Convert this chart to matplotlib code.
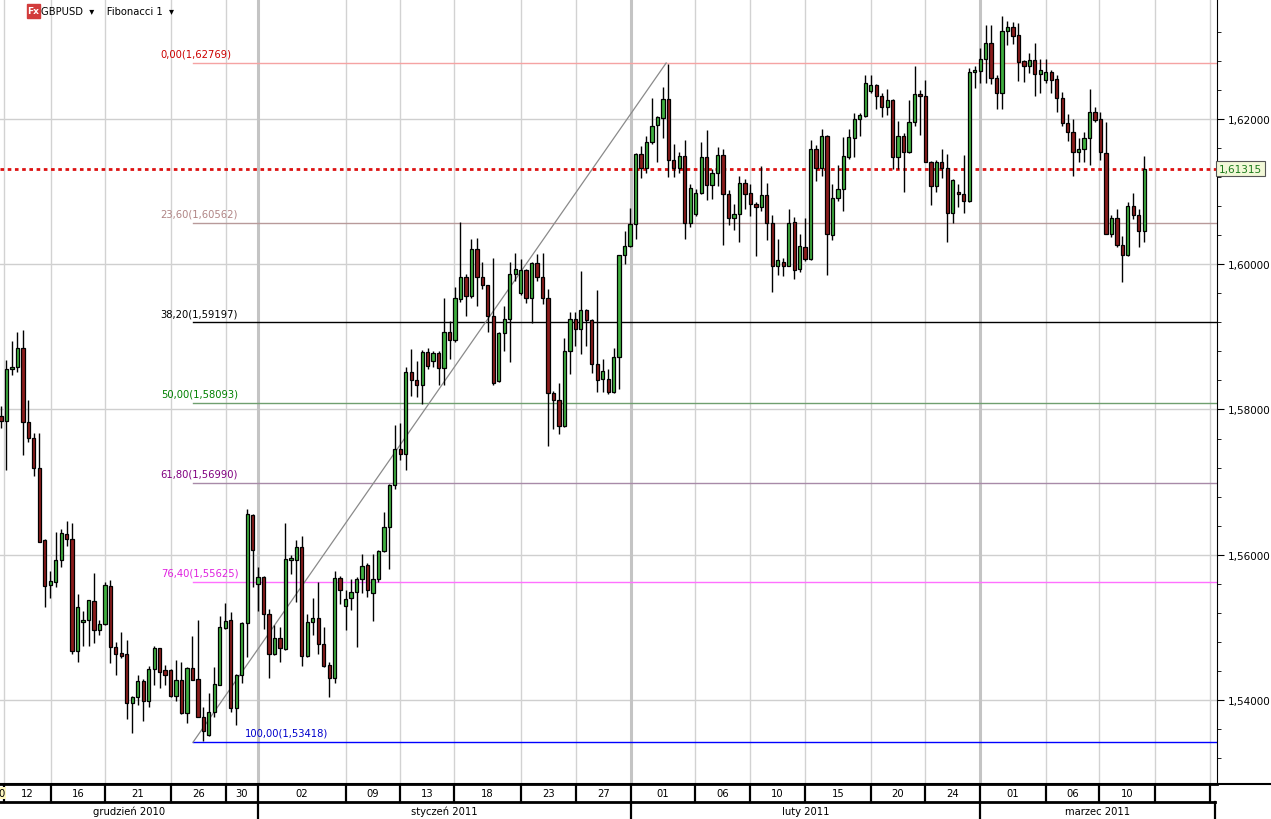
import matplotlib
matplotlib.use("Agg")
import matplotlib.pyplot as plt
import numpy as np

opens = [1.5791,1.5784,1.5856,1.5858,1.5884,1.5783,1.5761,1.5719,1.5620,1.5558,
1.5563,1.5593,1.5629,1.5622,1.5467,1.5507,1.5510,1.5536,1.5496,1.5504,
1.5557,1.5473,1.5465,1.5464,1.5396,1.5404,1.5426,1.5399,1.5443,1.5471,
1.5441,1.5441,1.5405,1.5427,1.5382,1.5444,1.5429,1.5377,1.5352,1.5384,
1.5421,1.5499,1.5510,1.5389,1.5434,1.5506,1.5655,1.5560,1.5569,1.5519,
1.5463,1.5485,1.5470,1.5593,1.5593,1.5610,1.5460,1.5508,1.5513,1.5477,
1.5448,1.5430,1.5568,1.5529,1.5540,1.5549,1.5566,1.5586,1.5548,1.5566,
1.5605,1.5638,1.5696,1.5745,1.5738,1.5851,1.5841,1.5833,1.5879,1.5867,
1.5878,1.5857,1.5906,1.5895,1.5952,1.5982,1.5956,1.6021,1.5983,1.5971,
1.5928,1.5839,1.5905,1.5925,1.5986,1.5960,1.5992,1.5954,1.6002,1.5982,
1.5953,1.5823,1.5813,1.5777,1.5881,1.5925,1.5911,1.5937,1.5923,1.5863,
1.5842,1.5842,1.5824,1.5872,1.6012,1.6025,1.6055,1.6152,1.6132,1.6168,
1.6191,1.6201,1.6227,1.6144,1.6132,1.6149,1.6057,1.6069,1.6098,1.6148,
1.6109,1.6126,1.6150,1.6096,1.6063,1.6069,1.6112,1.6098,1.6083,1.6078,
1.6095,1.6057,1.5998,1.6003,1.5998,1.6058,1.5993,1.6024,1.6007,1.6159,
1.6132,1.6177,1.6040,1.6091,1.6104,1.6148,1.6174,1.6200,1.6204,1.6238,
1.6246,1.6231,1.6217,1.6226,1.6148,1.6176,1.6155,1.6195,1.6234,1.6231,
1.6141,1.6108,1.6140,1.6133,1.6070,1.6099,1.6096,1.6087,1.6264,1.6266,
1.6283,1.6305,1.6256,1.6236,1.6321,1.6327,1.6315,1.6279,1.6273,1.6281,
1.6262,1.6253,1.6265,1.6255,1.6229,1.6194,1.6182,1.6155,1.6158,1.6173,
1.6210,1.6200,1.6153,1.6042,1.6063,1.6026,1.6012,1.6080,1.6068,1.6046]

highs = [1.5805,1.5868,1.5894,1.5906,1.5909,1.5813,1.5768,1.5767,1.5621,1.5578,
1.5631,1.5635,1.5647,1.5644,1.5546,1.5523,1.5537,1.5575,1.5510,1.5562,
1.5565,1.5480,1.5493,1.5482,1.5406,1.5435,1.5429,1.5447,1.5475,1.5472,
1.5448,1.5443,1.5455,1.5452,1.5445,1.5488,1.5510,1.5390,1.5410,1.5445,
1.5515,1.5534,1.5521,1.5436,1.5507,1.5663,1.5656,1.5583,1.5571,1.5525,
1.5503,1.5500,1.5644,1.5599,1.5620,1.5626,1.5519,1.5540,1.5562,1.5501,
1.5452,1.5577,1.5571,1.5551,1.5566,1.5569,1.5601,1.5589,1.5601,1.5606,
1.5659,1.5698,1.5778,1.5782,1.5858,1.5883,1.5866,1.5882,1.5884,1.5881,
1.5880,1.5953,1.5922,1.5968,1.6058,1.5986,1.6035,1.6036,1.6003,1.5971,
1.6008,1.5906,1.5942,1.6003,1.6015,1.6007,1.5994,1.6003,1.6014,1.6015,
1.5966,1.5826,1.5837,1.5899,1.5934,1.5934,1.5990,1.5938,1.5925,1.5965,
1.5870,1.5856,1.5884,1.6013,1.6046,1.6077,1.6153,1.6163,1.6177,1.6229,
1.6204,1.6244,1.6276,1.6166,1.6154,1.6171,1.6111,1.6103,1.6168,1.6184,
1.6131,1.6161,1.6159,1.6102,1.6083,1.6122,1.6117,1.6111,1.6085,1.6135,
1.6112,1.6068,1.6035,1.6008,1.6076,1.6065,1.6041,1.6064,1.6171,1.6164,
1.6186,1.6178,1.6111,1.6137,1.6175,1.6186,1.6208,1.6208,1.6261,1.6260,
1.6248,1.6236,1.6241,1.6228,1.6197,1.6180,1.6226,1.6273,1.6240,1.6254,
1.6142,1.6143,1.6159,1.6151,1.6117,1.6111,1.6150,1.6270,1.6273,1.6297,
1.6329,1.6329,1.6261,1.6342,1.6335,1.6333,1.6332,1.6281,1.6291,1.6305,
1.6282,1.6282,1.6267,1.6260,1.6237,1.6207,1.6200,1.6173,1.6182,1.6241,
1.6216,1.6210,1.6195,1.6068,1.6076,1.6039,1.6085,1.6098,1.6076,1.6149]

lows = [1.5774,1.5716,1.5848,1.5852,1.5737,1.5755,1.5709,1.5617,1.5528,1.5540,
1.5556,1.5583,1.5612,1.5464,1.5452,1.5475,1.5474,1.5478,1.5490,1.5503,
1.5451,1.5434,1.5458,1.5374,1.5354,1.5393,1.5371,1.5390,1.5421,1.5416,
1.5421,1.5404,1.5398,1.5381,1.5368,1.5428,1.5376,1.5343,1.5351,1.5376,
1.5420,1.5498,1.5384,1.5365,1.5424,1.5459,1.5555,1.5523,1.5498,1.5431,
1.5462,1.5452,1.5469,1.5573,1.5535,1.5447,1.5459,1.5489,1.5464,1.5445,
1.5404,1.5424,1.5532,1.5496,1.5524,1.5473,1.5548,1.5542,1.5509,1.5562,
1.5604,1.5581,1.5690,1.5731,1.5716,1.5818,1.5817,1.5807,1.5855,1.5858,
1.5833,1.5833,1.5869,1.5893,1.5948,1.5929,1.5954,1.5942,1.5966,1.5907,
1.5834,1.5838,1.5881,1.5865,1.5977,1.5958,1.5947,1.5919,1.5977,1.5945,
1.5749,1.5773,1.5766,1.5776,1.5849,1.5888,1.5876,1.5888,1.5850,1.5824,
1.5824,1.5821,1.5823,1.5828,1.6000,1.6024,1.6035,1.6119,1.6125,1.6165,
1.6140,1.6174,1.6120,1.6120,1.6125,1.6035,1.6051,1.6066,1.6097,1.6088,
1.6090,1.6107,1.6027,1.6054,1.6047,1.6031,1.6076,1.6066,1.6011,1.6073,
1.6033,1.5962,1.5985,1.5984,1.5997,1.5979,1.5989,1.6005,1.6006,1.6115,
1.6122,1.5985,1.6033,1.6087,1.6073,1.6145,1.6147,1.6176,1.6202,1.6236,
1.6214,1.6202,1.6206,1.6131,1.6131,1.6099,1.6153,1.6190,1.6178,1.6140,
1.6081,1.6099,1.6119,1.6030,1.6056,1.6079,1.6070,1.6086,1.6242,1.6250,
1.6250,1.6248,1.6213,1.6214,1.6301,1.6303,1.6252,1.6251,1.6263,1.6232,
1.6236,1.6250,1.6236,1.6210,1.6190,1.6169,1.6122,1.6140,1.6140,1.6136,
1.6195,1.6143,1.6042,1.6037,1.6024,1.5975,1.6011,1.6062,1.6024,1.6030]

closes = [1.5784,1.5855,1.5858,1.5885,1.5783,1.5761,1.5719,1.5618,1.5557,1.5564,
1.5593,1.5630,1.5621,1.5467,1.5528,1.5510,1.5537,1.5496,1.5504,1.5559,
1.5473,1.5464,1.5461,1.5396,1.5404,1.5426,1.5399,1.5443,1.5471,1.5439,
1.5435,1.5405,1.5428,1.5382,1.5444,1.5428,1.5377,1.5357,1.5384,1.5422,
1.5500,1.5509,1.5389,1.5434,1.5506,1.5656,1.5607,1.5569,1.5519,1.5463,
1.5485,1.5471,1.5594,1.5596,1.5610,1.5460,1.5508,1.5513,1.5477,1.5447,
1.5430,1.5568,1.5551,1.5539,1.5549,1.5567,1.5585,1.5551,1.5567,1.5605,
1.5638,1.5696,1.5745,1.5738,1.5851,1.5840,1.5833,1.5879,1.5860,1.5878,
1.5857,1.5906,1.5895,1.5953,1.5982,1.5956,1.6021,1.5983,1.5971,1.5928,
1.5837,1.5905,1.5925,1.5986,1.5993,1.5992,1.5953,1.6002,1.5982,1.5953,
1.5823,1.5813,1.5777,1.5881,1.5925,1.5911,1.5937,1.5923,1.5863,1.5841,
1.5853,1.5824,1.5872,1.6012,1.6025,1.6055,1.6152,1.6132,1.6168,1.6190,
1.6202,1.6227,1.6143,1.6132,1.6149,1.6057,1.6105,1.6098,1.6148,1.6109,
1.6126,1.6150,1.6096,1.6063,1.6069,1.6112,1.6097,1.6083,1.6078,1.6095,
1.6057,1.5998,1.6006,1.5998,1.6057,1.5992,1.6025,1.6007,1.6159,1.6132,
1.6177,1.6041,1.6091,1.6104,1.6149,1.6175,1.6200,1.6205,1.6250,1.6246,
1.6231,1.6217,1.6226,1.6148,1.6176,1.6155,1.6195,1.6234,1.6231,1.6141,
1.6108,1.6140,1.6133,1.6070,1.6116,1.6096,1.6087,1.6264,1.6267,1.6283,
1.6305,1.6256,1.6236,1.6321,1.6327,1.6314,1.6278,1.6273,1.6281,1.6262,
1.6267,1.6265,1.6254,1.6229,1.6194,1.6182,1.6155,1.6159,1.6173,1.6210,
1.6199,1.6154,1.6042,1.6063,1.6026,1.6012,1.6080,1.6068,1.6046,1.61315]

fib_pct = ["0,00", "23,60", "38,20", "50,00", "61,80", "76,40", "100,00"]
fib_prices = [1.62769, 1.60562, 1.59197, 1.58093, 1.56990, 1.55625, 1.53418]
fib_line_colors = ["#f5a3a3", "#b89a9a", "#000000", "#6f9f6f", "#a88aa8", "#ff70ff", "#0000ff"]
fib_text_colors = ["#cc0000", "#b08484", "#000000", "#008000", "#800080", "#e020e0", "#0000cc"]
current_price = 1.61315

day_bounds = [0.5, 9.1, 19.0, 31.1, 41.1, 47.0, 63.1, 72.9, 82.8, 95.1, 105.1, 115.2,
              126.9, 136.9, 147.0, 159.0, 168.9, 179.0, 191.0, 200.7, 211.0, 221.0]
day_labels = ["12", "16", "21", "26", "30", "02", "09", "13", "18", "23", "27",
              "01", "06", "10", "15", "20", "24", "01", "06", "10", ""]
month_bounds = [-0.2, 47.0, 115.2, 179.0, 221.9]
month_labels = ["grudzień 2010", "styczeń 2011", "luty 2011", "marzec 2011"]

W, H = 1271, 820
fig = plt.figure(figsize=(W/100, H/100), dpi=100)
fig.patch.set_facecolor("white")
XMIN, XMAX = -0.18, 222.3
YMIN, YMAX = 1.52844, 1.6365
ax = fig.add_axes([0, 35/H, 1217/W, 785/H])
ax.set_xlim(XMIN, XMAX)
ax.set_ylim(YMIN, YMAX)
for s in ["left", "top"]:
    ax.spines[s].set_visible(False)
ax.spines["right"].set_color("black")
ax.spines["bottom"].set_color("black")
ax.spines["bottom"].set_linewidth(2)

for p in np.arange(1.54, 1.63, 0.02):
    ax.axhline(p, color="#cfcfcf", lw=1, zorder=0)
for b in day_bounds:
    if b in month_bounds:
        ax.axvline(b, color="#c4c4c4", lw=2.2, zorder=0)
    else:
        ax.axvline(b, color="#d2d2d2", lw=1, zorder=0)

start = 35.1
for pct, pr, lc, tc in zip(fib_pct, fib_prices, fib_line_colors, fib_text_colors):
    ax.plot([start, XMAX], [pr, pr], color=lc, lw=1, zorder=1)
    tx = 44.6 if pct == "100,00" else 29.2
    ax.text(tx, pr + 0.0006, f"{pct}({pr:.5f})".replace(".", ","), color=tc,
            fontsize=7.2, ha="left", va="bottom", family="DejaVu Sans")
ax.plot([start, 121.6], [fib_prices[-1], fib_prices[0]], color="#8a8a8a", lw=0.9, zorder=1)

ax.axhline(current_price, color="#dd1111", lw=2, ls=(0, (1.3, 1.3)), zorder=1)

o = np.array(opens); h = np.array(highs); l = np.array(lows); c = np.array(closes)
idx = np.arange(len(o))
ax.vlines(idx, l, h, color="black", lw=1, zorder=2)
up = c >= o
bot = np.minimum(o, c)
hgt = np.maximum(np.abs(c - o), 0.00012)
ax.bar(idx[up], hgt[up], bottom=bot[up], width=0.6, color="#40b040", edgecolor="black", lw=0.9, zorder=3)
ax.bar(idx[~up], hgt[~up], bottom=bot[~up], width=0.6, color="#8b1c1c", edgecolor="black", lw=0.9, zorder=3)

ax.yaxis.tick_right()
ax.set_yticks(np.arange(1.54, 1.63, 0.02))
ax.set_yticklabels([f"{v:.5f}".replace(".", ",") for v in np.arange(1.54, 1.63, 0.02)], fontsize=7.5)
ax.set_yticks(np.arange(1.532, 1.636, 0.004), minor=True)
ax.tick_params(axis="y", which="major", length=5, pad=3, direction="out")
ax.tick_params(axis="y", which="minor", length=3, direction="out")
ax.set_xticks([])
ax.text(1.0 + 2/1217, current_price, f"{current_price:.5f}".replace(".", ","), transform=ax.get_yaxis_transform(),
        fontsize=7.5, color="#1a7a1a", va="center", ha="left",
        bbox=dict(boxstyle="square,pad=0.25", fc="#f2f8d8", ec="#555555", lw=0.8), zorder=5, clip_on=False)

axd = fig.add_axes([0, 0, 1217/W, 35/H])
axd.set_xlim(XMIN, XMAX)
axd.set_ylim(0, 35)
axd.axis("off")
axd.plot([XMIN, 221.9], [17, 17], color="black", lw=2)
for b in day_bounds:
    axd.plot([b, b], [17, 35], color="black", lw=1.6)
for b in month_bounds[1:]:
    axd.plot([b, b], [0, 17], color="black", lw=1.6)
for i, lab in enumerate(day_labels):
    axd.text((day_bounds[i] + day_bounds[i+1]) / 2, 26, lab, ha="center", va="center", fontsize=7.2)
axd.text(0.1, 26, "0", ha="center", va="center", fontsize=7.2,
         bbox=dict(boxstyle="square,pad=0.1", fc="#fff8c0", ec="none"))
for i, lab in enumerate(month_labels):
    axd.text((month_bounds[i] + month_bounds[i+1]) / 2, 8, lab, ha="center", va="center", fontsize=7.2)
fig.add_artist(plt.Line2D([0, 1], [35/H, 35/H], color="black", lw=1.5))

fig.add_artist(plt.Rectangle((27/W, 1-19/H), 13/W, 14/H, color="#d23c3c"))
fig.text(33.5/W, 1-12/H, "Fx", color="white", fontsize=6.5, ha="center", va="center", weight="bold")
fig.text(41/W, 1-12/H, "GBPUSD  ▾    Fibonacci 1  ▾", fontsize=7.2, ha="left", va="center")

fig.savefig("out.png", dpi=100)
